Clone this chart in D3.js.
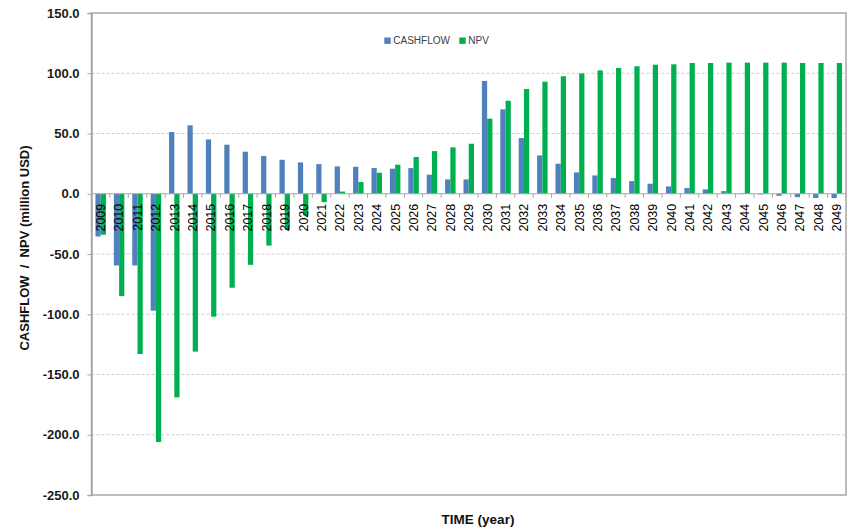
<!DOCTYPE html>
<html>
<head>
<meta charset="utf-8">
<script src="https://cdn.jsdelivr.net/npm/d3@7"></script>
<style>
  html, body { margin: 0; padding: 0; background: #fff; }
  svg { display: block; font-family: "Liberation Sans", Arial, sans-serif; }
</style>
</head>
<body>
<div id="chart"></div>
<script>
const years = ["2009","2010","2011","2012","2013","2014","2015","2016","2017","2018",
  "2019","2020","2021","2022","2023","2024","2025","2026","2027","2028",
  "2029","2030","2031","2032","2033","2034","2035","2036","2037","2038",
  "2039","2040","2041","2042","2043","2044","2045","2046","2047","2048","2049"];
const cashflow = [-35.5,-59.5,-59.5,-97,51.2,56.8,45.1,40.7,34.9,31.3,
  28.2,26.0,24.6,22.7,22.4,21.3,20.8,21.3,15.8,11.9,
  11.9,93.6,70.0,46.2,31.8,24.9,17.7,15.2,13.0,10.5,
  8.3,6.1,4.7,3.6,2.2,0.6,-0.6,-1.7,-2.8,-3.6,-3.6];
const npv = [-34,-85,-133,-206,-169,-131,-102,-78,-59,-43,
  -30,-18,-7,1.8,9.7,17.4,24.1,30.5,35.4,38.5,
  41.5,62.3,77.2,86.9,93.0,97.5,99.9,102.4,104.4,105.8,
  107.1,107.4,108.5,108.5,108.8,108.8,108.8,108.8,108.5,108.5,108.5];
const seriesNames = ["CASHFLOW","NPV"];
const seriesColors = ["#4F81BD","#00B050"];
const yTicks = [150,100,50,0,-50,-100,-150,-200,-250];

const W = 852, H = 528;
const L = 91.5, R = 846, T = 13, B = 495;

const svg = d3.select("#chart").append("svg").attr("width", W).attr("height", H);

const x0 = d3.scaleBand().domain(years).range([L, R]).padding(0);
const step = x0.step();
const gap = step * 0.215;
const x1 = d3.scaleBand().domain(seriesNames).range([gap, step - gap]).padding(0);
const y = d3.scaleLinear().domain([-250, 150]).range([B, T]);

// gridlines
svg.append("g").selectAll("line").data(yTicks.filter(v => v !== 150 && v !== -250 && v !== 0))
  .join("line")
  .attr("x1", L).attr("x2", R)
  .attr("y1", d => y(d)).attr("y2", d => y(d))
  .attr("stroke", "#cfcfcf").attr("stroke-width", 1).attr("stroke-dasharray", "3,2");

// bars
const data = years.map((yr, i) => ({ year: yr, vals: [cashflow[i], npv[i]] }));
const groups = svg.append("g").selectAll("g").data(data).join("g")
  .attr("transform", d => `translate(${x0(d.year)},0)`);
groups.selectAll("rect").data(d => d.vals.map((v, j) => ({ v, s: seriesNames[j], c: seriesColors[j] })))
  .join("rect")
  .attr("x", d => x1(d.s))
  .attr("width", x1.bandwidth())
  .attr("y", d => Math.min(y(d.v), y(0)))
  .attr("height", d => Math.abs(y(d.v) - y(0)))
  .attr("fill", d => d.c);

// plot border
svg.append("rect").attr("x", L).attr("y", T).attr("width", R - L).attr("height", B - T)
  .attr("fill", "none").attr("stroke", "#a6a6a6").attr("stroke-width", 1.5);

// y axis
const yAxis = d3.axisLeft(y).tickValues(yTicks).tickSize(4).tickFormat(d => d.toFixed(1));
const ya = svg.append("g").attr("transform", `translate(${L},0)`).call(yAxis);
ya.select(".domain").attr("stroke", "#a6a6a6").attr("stroke-width", 1.5);
ya.selectAll(".tick line").attr("stroke", "#a6a6a6");
ya.selectAll(".tick text").attr("x", -12)
  .attr("font-family", "'Liberation Sans', Arial, sans-serif")
  .attr("font-size", 13).attr("font-weight", "bold").attr("fill", "#1a1a1a");

// zero axis line with ticks at category boundaries
svg.append("line").attr("x1", L).attr("x2", R).attr("y1", y(0)).attr("y2", y(0))
  .attr("stroke", "#a6a6a6").attr("stroke-width", 1.2);
svg.append("g").selectAll("line").data(years.concat(["__end"]))
  .join("line")
  .attr("x1", (d, i) => L + i * step).attr("x2", (d, i) => L + i * step)
  .attr("y1", y(0)).attr("y2", y(0) + 4)
  .attr("stroke", "#a6a6a6");

// category labels
svg.append("g").selectAll("text").data(years).join("text")
  .attr("transform", d => `translate(${x0(d) + step / 2},${y(0) + 10}) rotate(-90)`)
  .attr("text-anchor", "end")
  .attr("dy", "0.35em")
  .attr("font-size", 12.5)
  .attr("fill", "#000")
  .text(d => d);

// axis titles
svg.append("text")
  .attr("transform", `translate(29,248) rotate(-90)`)
  .attr("text-anchor", "middle")
  .attr("font-size", 13).attr("font-weight", "bold").attr("fill", "#111")
  .style("white-space", "pre")
  .text("CASHFLOW  /  NPV (million USD)");
svg.append("text")
  .attr("x", 478).attr("y", 524)
  .attr("text-anchor", "middle")
  .attr("font-size", 13.5).attr("font-weight", "bold").attr("fill", "#111")
  .text("TIME (year)");

// legend
const legendX = [384.3, 459.3];
const lg = svg.append("g").selectAll("g").data(seriesNames).join("g")
  .attr("transform", (d, i) => `translate(${legendX[i]},37.5)`);
lg.append("rect").attr("width", 6.4).attr("height", 6.4).attr("fill", (d, i) => seriesColors[i]);
lg.append("text").attr("x", 9).attr("y", 6.8)
  .attr("font-size", 10).attr("fill", "#404040").text(d => d);
</script>
</body>
</html>
